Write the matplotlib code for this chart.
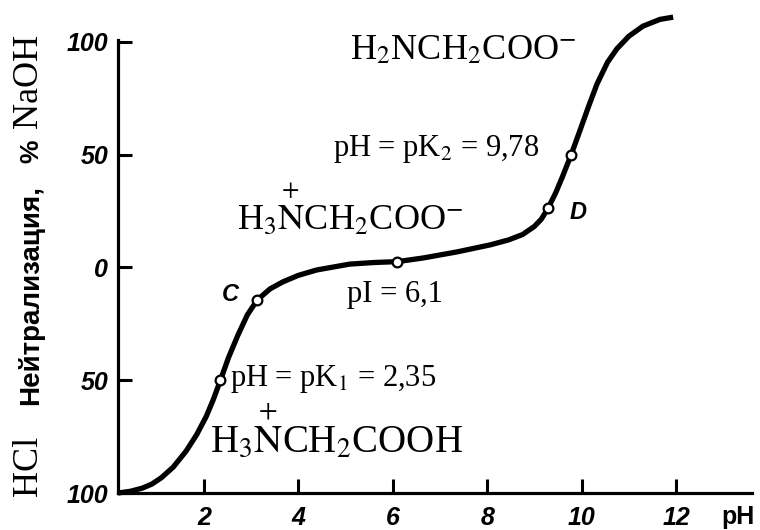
import matplotlib
matplotlib.use("Agg")
import matplotlib.pyplot as plt

plt.rcParams['mathtext.fontset'] = 'stix'

# titration curve of glycine: pH vs. % neutralisation (HCl below 0, NaOH above)
curve_ph = [0.18, 0.45, 0.70, 0.90, 1.10, 1.35, 1.62, 1.85, 2.05, 2.20, 2.35, 2.52,
            2.72, 2.92, 3.13, 3.40, 3.67, 4.00, 4.39, 5.09, 5.60, 6.10, 6.64, 7.36,
            8.06, 8.45, 8.75, 9.00, 9.15, 9.29, 9.45, 9.60, 9.78, 9.97, 10.15, 10.33,
            10.55, 10.75, 11.00, 11.30, 11.66, 11.94]
curve_pct = [-100, -99.2, -97.8, -96, -93.2, -88.5, -81.5, -74, -66, -58.5, -50, -40,
             -30, -21, -14.4, -9.5, -6.4, -3.5, -1.1, 1.5, 2.2, 2.6, 4.2, 6.9,
             10, 12.2, 14.6, 18.2, 21.5, 26.3, 33, 40.5, 50, 61, 71.5, 81.5,
             91, 97, 102.5, 107, 110, 111]

# marked points: pK1, C, pI, D, pK2
mark_ph = [2.35, 3.13, 6.10, 9.29, 9.78]
mark_pct = [-50, -14.4, 2.6, 26.3, 50]

xticks = [2, 4, 6, 8, 10, 12]
yticks = [-100, -50, 0, 50, 100]
ytick_labels = ["100", "50", "0", "50", "100"]

W, H = 760, 530
fig = plt.figure(figsize=(W / 100, H / 100), dpi=100)
ax = fig.add_axes([0, 0, 1, 1])
ax.set_xlim(-2.32, 13.78)
ax.set_ylim(-116.4, 118.6)
ax.patch.set_visible(False)

for s in ['top', 'right']:
    ax.spines[s].set_visible(False)
ax.spines['left'].set_position(('data', 0.18))
ax.spines['bottom'].set_position(('data', -100))
ax.spines['left'].set_bounds(-100, 101)
ax.spines['bottom'].set_bounds(0.18, 13.61)
for s in ['left', 'bottom']:
    ax.spines[s].set_linewidth(2.3)

ax.plot(curve_ph, curve_pct, color='black', lw=3.8, solid_capstyle='butt',
        solid_joinstyle='round', zorder=3)
ax.plot(mark_ph, mark_pct, 'o', ms=7, mfc='white', mec='black', mew=1.6, zorder=4)

tick_font = dict(family='Liberation Sans', weight='bold', style='italic', size=18)
ax.set_xticks(xticks)
ax.set_xticklabels([str(t) for t in xticks], **tick_font)
ax.set_yticks(yticks)
ax.set_yticklabels(ytick_labels, **tick_font)
ax.tick_params(axis='both', direction='in', length=10, width=2.2)
ax.tick_params(axis='x', pad=9)
ax.tick_params(axis='y', pad=7)

serif = ['Liberation Serif', 'DejaVu Serif']

# species and pK labels
ax.text(5.1, 92.5, r"H$_2$NCH$_2$COO$^{-}$", family=serif, size=26, va='baseline')
ax.text(4.73, 49.5, r"pH = pK$_2$ = 9,78", family=serif, size=22, va='baseline')
ax.text(2.70, 16.6, r"H$_3\overset{+}{\mathrm{N}}$CH$_2$COO$^{-}$", family=serif,
        size=26, va='baseline')
ax.text(5.03, -15.3, "pI = 6,1", family=serif, size=22, va='baseline')
ax.text(2.55, -52.5, r"pH = pK$_1$ = 2,35", family=serif, size=22, va='baseline')
ax.text(2.13, -81.8, r"H$_3\overset{+}{\mathrm{N}}$CH$_2$COOH", family=serif,
        size=28, va='baseline')

point_font = dict(family='Liberation Sans', weight='bold', style='italic', size=17,
                  ha='center', va='center')
ax.text(2.57, -12.2, "C", **point_font)
ax.text(9.92, 24.2, "D", **point_font)

# axis titles
fig.text(738 / W, 1 - 517 / H, "pH", family='Liberation Sans', weight='bold',
         size=18, ha='center', va='center')
fig.text(29 / W, 1 - 466 / H, "HCl", family=serif, size=26, rotation=90,
         ha='center', va='center')
fig.text(31 / W, 1 - 295 / H, "Нейтрализация,", family='Liberation Sans',
         weight='bold', size=20, rotation=90, ha='center', va='center')
fig.text(31 / W, 1 - 151 / H, "%", family='Liberation Sans', weight='bold',
         size=19, rotation=90, ha='center', va='center')
fig.text(29 / W, 1 - 81 / H, "NaOH", family=serif, size=26, rotation=90,
         ha='center', va='center')

fig.savefig("out.png", dpi=100)
